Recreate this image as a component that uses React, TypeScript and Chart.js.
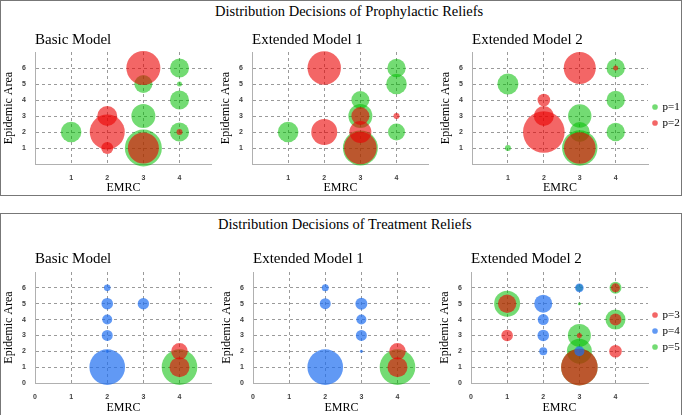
import React, { useEffect, useRef } from "react";
import { Chart, registerables } from "chart.js";

Chart.register(...registerables);

type Pt = [number, number, number]; // [EMRC, Epidemic Area, bubble size]

// ---------- Prophylactic reliefs ----------
const prophBasicP1: Pt[] = [[1, 2, 10.3], [3, 5, 9], [3, 3, 12], [3, 1, 18.5], [4, 6, 9.5], [4, 5, 2.5], [4, 4, 9.5], [4, 2, 9.5]];
const prophBasicP2: Pt[] = [[3, 6, 17], [2, 3, 10], [2, 2, 17.5], [2, 1, 6], [3, 1, 15.5], [4, 2, 3]];

const prophExt1P1: Pt[] = [[1, 2, 10.3], [3, 4, 9], [3, 3, 12], [3, 1, 17.5], [4, 6, 9.2], [4, 5, 10.3], [4, 2, 8.5]];
const prophExt1P2: Pt[] = [[2, 6, 16.7], [2, 2, 13], [3, 3, 9], [3, 2, 11], [3, 1, 16.3], [4, 3, 3]];

const prophExt2P1: Pt[] = [[1, 5, 10.5], [1, 1, 3], [3, 3, 11.7], [3, 2, 10], [3, 1, 17.7], [4, 6, 9.2], [4, 4, 9.2], [4, 2, 9.2]];
const prophExt2P2: Pt[] = [[3, 6, 16], [2, 4, 6.3], [2, 3, 10], [2, 2, 20.8], [3, 1, 15.8], [4, 6, 2.5]];

// ---------- Treatment reliefs ----------
const treatBasicP3: Pt[] = [[4, 2, 8.3], [4, 1, 10]];
const treatBasicP4: Pt[] = [[2, 6, 3.3], [2, 5, 5.8], [2, 4, 5], [2, 3, 5.5], [2, 2, 1.5], [2, 1, 17.8], [3, 5, 5.7]];
const treatBasicP5: Pt[] = [[4, 1, 17.8]];

const treatExt1P3: Pt[] = [[4, 2, 8.3], [4, 1, 10]];
const treatExt1P4: Pt[] = [[2, 6, 3.5], [2, 5, 5.5], [2, 1, 17.8], [3, 5, 6], [3, 4, 5], [3, 3, 5.5], [3, 2, 1.5]];
const treatExt1P5: Pt[] = [[4, 1, 17.8]];

const treatExt2P3: Pt[] = [[1, 5, 9.2], [1, 3, 5.8], [3, 3, 2.5], [3, 1, 18.3], [4, 6, 4.5], [4, 4, 6], [4, 2, 6.3]];
const treatExt2P4: Pt[] = [[2, 5, 9], [2, 4, 5.5], [2, 3, 5.8], [2, 2, 4], [3, 6, 4.3], [3, 2, 5]];
const treatExt2P5: Pt[] = [[1, 5, 13], [3, 5, 1.5], [3, 3, 11.5], [3, 2, 12.5], [3, 1, 18.3], [4, 6, 6], [4, 4, 10], [3, 6, 3.5]];

// ---------- ticks / labels ----------
const X_TICKS_TOP = [1, 2, 3, 4];
const X_TICKS_BOTTOM = [0, 1, 2, 3, 4];
const Y_TICKS_TOP = [1, 2, 3, 4, 5, 6];
const Y_TICKS_BOTTOM = [0, 1, 2, 3, 4, 5, 6];
const X_MAX = 4.9;
const Y_MAX = 7;

const TOP_TITLE = "Distribution Decisions of Prophylactic Reliefs";
const BOTTOM_TITLE = "Distribution Decisions of Treatment Reliefs";
const X_TITLE = "EMRC";
const Y_TITLE = "Epidemic Area";

// ---------- styles ----------
const SERIF = '"Liberation Serif", "Times New Roman", serif';
const SANS = '"Liberation Sans", Arial, sans-serif';
const GREEN = "rgba(0,190,0,0.55)";
const RED = "rgba(235,0,0,0.6)";
const BLUE = "rgba(30,110,240,0.7)";
const GRID = "#9a9a9a";
const AXIS = "#b0b0b0";

interface Series { label: string; data: Pt[]; color: string }
interface Spec {
  title: string;
  series: Series[];
  xTicks: number[];
  yTicks: number[];
  legend: boolean;
  legendShift: number;
  left: number;
  top: number;
  w: number;
  h: number;
  xAxisH: number;
  titlePadBottom: number;
}

function buildConfig(s: Spec): any {
  const gridColor = (ctx: any) => (ctx.tick && ctx.tick.value === 0 ? "rgba(0,0,0,0)" : GRID);
  const tickFont = { family: SANS, size: 7, weight: "bold" as const };
  return {
    type: "bubble",
    data: {
      datasets: s.series.map((se) => ({
        label: se.label,
        data: se.data.map(([x, y, r]) => ({ x, y, r })),
        backgroundColor: se.color,
        hoverBackgroundColor: se.color,
        borderWidth: 0,
        hoverBorderWidth: 0,
        clip: false,
      })),
    },
    options: {
      responsive: false,
      animation: false,
      devicePixelRatio: 1,
      events: [],
      layout: { padding: 0, autoPadding: false },
      plugins: {
        tooltip: { enabled: false },
        title: {
          display: true,
          text: s.title,
          align: "start",
          fullSize: false,
          color: "#000",
          font: { family: SERIF, size: 15, weight: "normal", lineHeight: 1.2 },
          padding: { top: 3, bottom: s.titlePadBottom },
        },
        legend: s.legend
          ? {
              display: true,
              position: "right",
              maxWidth: 34,
              title: { display: s.legendShift > 0, text: "", font: { size: 5, lineHeight: 1.2 }, padding: { top: 0, bottom: s.legendShift } },
              labels: {
                usePointStyle: true,
                pointStyle: "circle",
                boxWidth: 4,
                boxHeight: 4,
                padding: 5,
                color: "#000",
                font: { family: SERIF, size: 11 },
                sort: (a: any, b: any) => a.text.localeCompare(b.text),
              },
            }
          : { display: false },
      },
      scales: {
        x: {
          type: "linear",
          min: 0,
          max: X_MAX,
          afterBuildTicks: (axis: any) => {
            axis.ticks = s.xTicks.map((v) => ({ value: v }));
          },
          afterFit: (axis: any) => {
            axis.height = s.xAxisH;
          },
          grid: { color: gridColor, lineWidth: 1, drawTicks: false },
          border: { display: true, color: AXIS, width: 1, dash: [3, 3] },
          ticks: { padding: 10, font: tickFont, color: "#404040" },
          title: { display: true, text: X_TITLE, color: "#000", font: { family: SERIF, size: 12, lineHeight: 1.2 }, padding: 0 },
        },
        y: {
          type: "linear",
          min: 0,
          max: Y_MAX,
          afterBuildTicks: (axis: any) => {
            axis.ticks = s.yTicks.map((v) => ({ value: v }));
          },
          afterFit: (axis: any) => {
            axis.width = 35;
          },
          grid: { color: gridColor, lineWidth: 1, drawTicks: false },
          border: { display: true, color: AXIS, width: 1, dash: [3, 3] },
          ticks: { padding: 9, font: tickFont, color: "#404040" },
          title: { display: true, text: Y_TITLE, color: "#000", font: { family: SERIF, size: 12, lineHeight: 1.2 }, padding: { top: 2, bottom: 0 } },
        },
      },
    },
  };
}

function BubbleChart({ spec }: { spec: Spec }) {
  const ref = useRef<HTMLCanvasElement | null>(null);
  useEffect(() => {
    if (!ref.current) return;
    const chart = new Chart(ref.current, buildConfig(spec));
    return () => chart.destroy();
  }, [spec]);
  return (
    <canvas
      ref={ref}
      width={spec.w}
      height={spec.h}
      style={{ position: "absolute", left: spec.left, top: spec.top, width: spec.w, height: spec.h }}
    />
  );
}

const topSeries = (p1: Pt[], p2: Pt[]): Series[] => [
  { label: "p=2", data: p2, color: RED },
  { label: "p=1", data: p1, color: GREEN },
];
const bottomSeries = (p3: Pt[], p4: Pt[], p5: Pt[]): Series[] => [
  { label: "p=4", data: p4, color: BLUE },
  { label: "p=3", data: p3, color: RED },
  { label: "p=5", data: p5, color: GREEN },
];

const SPECS: Spec[] = [
  { title: "Basic Model", series: topSeries(prophBasicP1, prophBasicP2), xTicks: X_TICKS_TOP, yTicks: Y_TICKS_TOP, legend: false, legendShift: 0, left: 0, top: 28, w: 212, h: 167, xAxisH: 31, titlePadBottom: 3 },
  { title: "Extended Model 1", series: topSeries(prophExt1P1, prophExt1P2), xTicks: X_TICKS_TOP, yTicks: Y_TICKS_TOP, legend: false, legendShift: 0, left: 217, top: 28, w: 212, h: 167, xAxisH: 31, titlePadBottom: 3 },
  { title: "Extended Model 2", series: topSeries(prophExt2P1, prophExt2P2), xTicks: X_TICKS_TOP, yTicks: Y_TICKS_TOP, legend: true, legendShift: 1, left: 437, top: 28, w: 245, h: 167, xAxisH: 31, titlePadBottom: 3 },
  { title: "Basic Model", series: bottomSeries(treatBasicP3, treatBasicP4, treatBasicP5), xTicks: X_TICKS_BOTTOM, yTicks: Y_TICKS_BOTTOM, legend: false, legendShift: 0, left: 0, top: 247, w: 212, h: 168, xAxisH: 32, titlePadBottom: 4 },
  { title: "Extended Model 1", series: bottomSeries(treatExt1P3, treatExt1P4, treatExt1P5), xTicks: X_TICKS_BOTTOM, yTicks: Y_TICKS_BOTTOM, legend: false, legendShift: 0, left: 218, top: 247, w: 212, h: 168, xAxisH: 32, titlePadBottom: 4 },
  { title: "Extended Model 2", series: bottomSeries(treatExt2P3, treatExt2P4, treatExt2P5), xTicks: X_TICKS_BOTTOM, yTicks: Y_TICKS_BOTTOM, legend: true, legendShift: 0, left: 436, top: 247, w: 246, h: 168, xAxisH: 32, titlePadBottom: 4 },
];

export default function App() {
  const titleStyle: React.CSSProperties = {
    position: "absolute",
    fontFamily: SERIF,
    fontSize: 14.5,
    lineHeight: "14.5px",
    color: "#000",
    whiteSpace: "nowrap",
  };
  return (
    <div style={{ position: "absolute", left: 0, top: 0, width: 682, height: 415, overflow: "hidden", background: "#fff" }}>
      <div style={{ position: "absolute", left: 0, top: 0, width: 682, height: 196, boxSizing: "border-box", border: "1px solid #777" }} />
      <div style={{ position: "absolute", left: 0, top: 213, width: 682, height: 210, boxSizing: "border-box", border: "1px solid #777" }} />
      <div style={{ ...titleStyle, left: 215, top: 4 }}>{TOP_TITLE}</div>
      <div style={{ ...titleStyle, left: 218, top: 217 }}>{BOTTOM_TITLE}</div>
      {SPECS.map((s, i) => (
        <BubbleChart key={i} spec={s} />
      ))}
    </div>
  );
}
